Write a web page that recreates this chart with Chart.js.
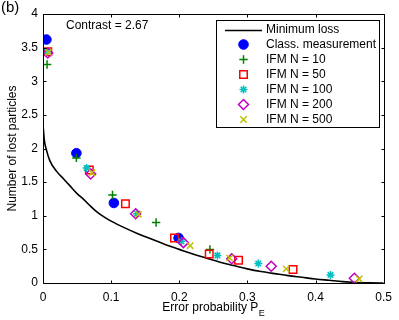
<!DOCTYPE html>
<html>
<head>
<meta charset="utf-8">
<script src="https://cdn.jsdelivr.net/npm/chart.js@4.4.1/dist/chart.umd.min.js"></script>
<style>
html,body{margin:0;padding:0;background:#fff;}
#wrap{width:399px;height:320px;position:relative;}
</style>
</head>
<body>
<div id="wrap"><canvas id="c" width="399" height="320"></canvas></div>
<script>
// ---- data ----
const minLossX = [0, 0.002, 0.005, 0.01, 0.02, 0.03, 0.04, 0.05, 0.06, 0.07, 0.08, 0.09, 0.10, 0.12, 0.14, 0.16, 0.18, 0.20, 0.22, 0.24, 0.26, 0.28, 0.30, 0.32, 0.34, 0.36, 0.38, 0.40, 0.42, 0.44, 0.46, 0.48, 0.50];
const minLossY = [2.36, 2.12, 1.98, 1.82, 1.66, 1.55, 1.44, 1.33, 1.24, 1.14, 1.05, 0.98, 0.92, 0.82, 0.73, 0.65, 0.57, 0.50, 0.43, 0.37, 0.31, 0.26, 0.21, 0.17, 0.14, 0.11, 0.085, 0.06, 0.04, 0.02, 0.008, 0.002, 0];

const classX = [0.005, 0.049, 0.104, 0.199];
const classY = [3.62, 1.93, 1.19, 0.67];

const ifm10X = [0.006, 0.049, 0.102, 0.166, 0.245];
const ifm10Y = [3.25, 1.86, 1.31, 0.90, 0.50];

const ifm50X = [0.007, 0.068, 0.121, 0.193, 0.244, 0.287, 0.367];
const ifm50Y = [3.44, 1.68, 1.18, 0.67, 0.43, 0.34, 0.20];

const ifm100X = [0.006, 0.064, 0.138, 0.203, 0.256, 0.316, 0.422];
const ifm100Y = [3.44, 1.71, 1.03, 0.62, 0.41, 0.29, 0.12];

const ifm200X = [0.007, 0.070, 0.136, 0.206, 0.277, 0.335, 0.457];
const ifm200Y = [3.42, 1.62, 1.03, 0.60, 0.36, 0.25, 0.07];

const ifm500X = [0.008, 0.072, 0.140, 0.216, 0.274, 0.357, 0.464];
const ifm500Y = [3.43, 1.64, 1.02, 0.555, 0.37, 0.21, 0.06];

const seriesLabels = ['Minimum loss', 'Class. measurement', 'IFM N = 10', 'IFM N = 50', 'IFM N = 100', 'IFM N = 200', 'IFM N = 500'];
const xTicks = [0, 0.1, 0.2, 0.3, 0.4, 0.5];
const yTicks = [0, 0.5, 1, 1.5, 2, 2.5, 3, 3.5, 4];
const xTitle = 'Error probability P';
const xTitleSub = 'E';
const yTitle = 'Number of lost particles';
const panelLabel = '(b)';
const annotation = 'Contrast = 2.67';

function pts(xs, ys){ return xs.map((x,i)=>({x:x, y:ys[i]})); }

const FONT = '"Liberation Sans", Arial, Helvetica, sans-serif';

const datasets = [
  {label: seriesLabels[0], data: pts(minLossX, minLossY), showLine: true, borderColor:'#000', borderWidth:1.6, pointRadius:0, fill:false, cubicInterpolationMode:'monotone', order:7},
  {label: seriesLabels[1], data: pts(classX, classY), pointStyle:'circle', pointRadius:4.8, backgroundColor:'#0000ff', borderColor:'#0000ff', borderWidth:1, order:6},
  {label: seriesLabels[2], data: pts(ifm10X, ifm10Y), pointStyle:'cross', pointRadius:4.2, backgroundColor:'rgba(0,0,0,0)', borderColor:'#008000', borderWidth:1.5, order:5},
  {label: seriesLabels[3], data: pts(ifm50X, ifm50Y), pointStyle:'rect', pointRadius:5.3, backgroundColor:'rgba(0,0,0,0)', borderColor:'#ff0000', borderWidth:1.5, order:4},
  {label: seriesLabels[4], data: pts(ifm100X, ifm100Y), pointStyle:'star', pointRadius:4, backgroundColor:'rgba(0,0,0,0)', borderColor:'#00bfbf', borderWidth:1.5, order:3},
  {label: seriesLabels[5], data: pts(ifm200X, ifm200Y), pointStyle:'rectRot', pointRadius:5, backgroundColor:'rgba(0,0,0,0)', borderColor:'#bf00bf', borderWidth:1.5, order:2},
  {label: seriesLabels[6], data: pts(ifm500X, ifm500Y), pointStyle:'crossRot', pointRadius:4.5, backgroundColor:'rgba(0,0,0,0)', borderColor:'#bfbf00', borderWidth:1.5, order:1}
];

const decorPlugin = {
  id: 'decor',
  afterDraw(chart){
    const ctx = chart.ctx;
    const a = chart.chartArea;
    const xs = chart.scales.x, ys = chart.scales.y;
    ctx.save();
    // box
    const L = Math.round(a.left)+0.5, R = Math.round(a.right)+0.5, T = Math.round(a.top)+0.5, B = Math.round(a.bottom)+0.5;
    ctx.strokeStyle = '#000';
    ctx.lineWidth = 1;
    ctx.beginPath();
    ctx.rect(L, T, R-L, B-T);
    ctx.stroke();
    // inward ticks on all sides
    const tl = 3;
    ctx.beginPath();
    xTicks.forEach(v=>{
      const px = Math.round(xs.getPixelForValue(v))+0.5;
      ctx.moveTo(px, B); ctx.lineTo(px, B-tl);
      ctx.moveTo(px, T); ctx.lineTo(px, T+tl);
    });
    yTicks.forEach(v=>{
      const py = Math.round(ys.getPixelForValue(v))+0.5;
      ctx.moveTo(L, py); ctx.lineTo(L+tl, py);
      ctx.moveTo(R, py); ctx.lineTo(R-tl, py);
    });
    ctx.stroke();

    // titles
    ctx.fillStyle = '#000';
    ctx.font = '12px ' + FONT;
    ctx.textBaseline = 'alphabetic';
    const w1 = ctx.measureText(xTitle).width;
    ctx.font = '9px ' + FONT;
    const w2 = ctx.measureText(xTitleSub).width;
    const cx = (a.left + a.right)/2;
    const startX = cx - (w1 + w2)/2;
    ctx.font = '12px ' + FONT;
    ctx.textAlign = 'left';
    ctx.fillText(xTitle, startX, 311);
    ctx.font = '9px ' + FONT;
    ctx.fillText(xTitleSub, startX + w1 + 0.5, 316);

    ctx.save();
    ctx.translate(16, (a.top + a.bottom)/2);
    ctx.rotate(-Math.PI/2);
    ctx.font = '12px ' + FONT;
    ctx.textAlign = 'center';
    ctx.fillText(yTitle, 0, 0);
    ctx.restore();

    // panel label
    ctx.font = '15px ' + FONT;
    ctx.textAlign = 'left';
    ctx.textBaseline = 'top';
    ctx.fillText(panelLabel, 1, 0);

    // annotation
    ctx.font = '12px ' + FONT;
    ctx.textBaseline = 'middle';
    ctx.fillText(annotation, 66, 25.5);

    // legend
    const lx = 216.5, ly = 20.5, lw = 163, lh = 107;
    ctx.fillStyle = '#fff';
    ctx.fillRect(lx, ly, lw, lh);
    ctx.strokeStyle = '#000';
    ctx.lineWidth = 1;
    ctx.strokeRect(lx, ly, lw, lh);
    const rowY0 = 29.5, rowH = 15;
    chart.data.datasets.forEach((ds, i)=>{
      const y = rowY0 + i*rowH;
      if (i === 0){
        ctx.strokeStyle = ds.borderColor;
        ctx.lineWidth = ds.borderWidth;
        ctx.beginPath();
        ctx.moveTo(225, Math.round(y)+0.5);
        ctx.lineTo(262, Math.round(y)+0.5);
        ctx.stroke();
      } else {
        ctx.save();
        ctx.strokeStyle = ds.borderColor;
        ctx.fillStyle = ds.backgroundColor;
        ctx.lineWidth = ds.borderWidth;
        Chart.helpers.drawPoint(ctx, {pointStyle: ds.pointStyle, radius: ds.pointRadius, rotation: 0, borderWidth: ds.borderWidth}, 243.5, y);
        ctx.restore();
      }
      ctx.fillStyle = '#000';
      ctx.font = '12px ' + FONT;
      ctx.textAlign = 'left';
      ctx.textBaseline = 'middle';
      ctx.fillText(ds.label, 266, y);
    });
    ctx.restore();
  }
};

new Chart(document.getElementById('c'), {
  type: 'scatter',
  data: { datasets: datasets },
  options: {
    responsive: false,
    animation: false,
    devicePixelRatio: 1,
    layout: { padding: { top: 14, right: 13, left: 0, bottom: 0 } },
    plugins: { legend: { display: false }, tooltip: { enabled: false } },
    scales: {
      x: {
        type: 'linear', min: 0, max: 0.5,
        afterBuildTicks(scale){ scale.ticks = xTicks.map(v=>({value:v})); },
        afterFit(scale){ scale.height = 37; },
        grid: { display: false, drawTicks: false },
        border: { display: false },
        ticks: { color: '#000', font: { size: 12, family: FONT }, padding: 7, maxRotation: 0, callback: v => String(v) },
        title: { display: false }
      },
      y: {
        type: 'linear', min: 0, max: 4,
        afterBuildTicks(scale){ scale.ticks = yTicks.map(v=>({value:v})); },
        afterFit(scale){ scale.width = 43; },
        grid: { display: false, drawTicks: false },
        border: { display: false },
        ticks: { color: '#000', font: { size: 12, family: FONT }, padding: 5, callback: v => String(v) },
        title: { display: false }
      }
    }
  },
  plugins: [decorPlugin]
});
</script>
</body>
</html>
